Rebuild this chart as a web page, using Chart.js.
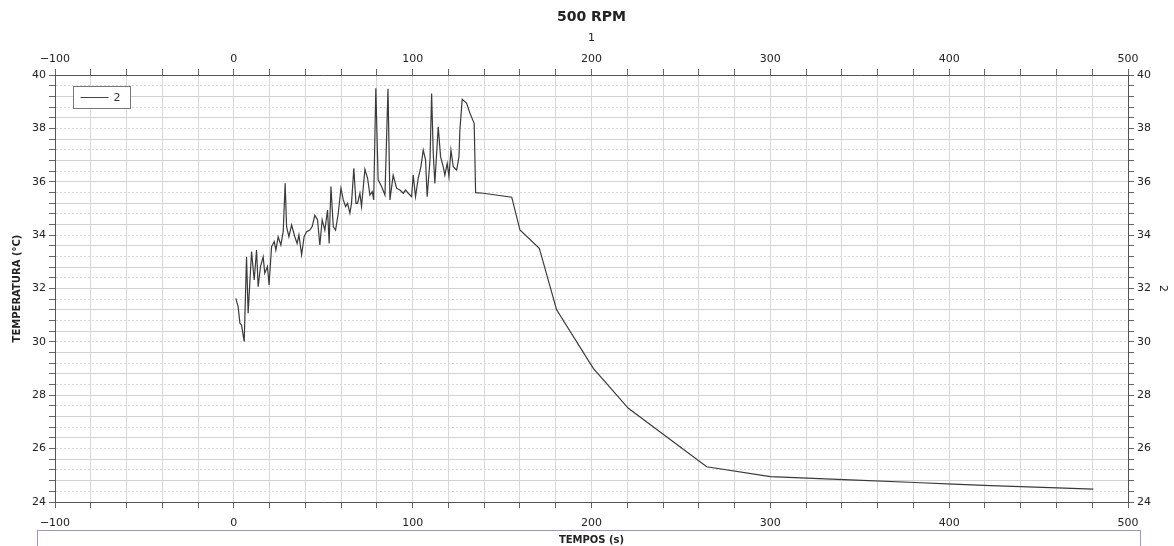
<!DOCTYPE html>
<html><head><meta charset="utf-8">
<script src="https://cdn.jsdelivr.net/npm/chart.js@4.4.0/dist/chart.umd.min.js"></script>
<style>html,body{margin:0;padding:0;background:#fff;}#wrap{width:1174px;height:546px;position:relative;}</style>
</head><body><div id="wrap"><canvas id="c" width="1174" height="546"></canvas></div>
<script>
const chartTitle = '500 RPM';
const seriesName = '2';
const timeValues = [1.1,2.4,3.4,4.3,5.8,7.1,8.0,9.9,11.4,12.7,13.6,14.9,16.4,17.3,18.8,19.7,21.1,22.6,23.5,24.8,26.3,27.6,28.7,29.5,30.8,32.3,34.1,35.4,36.4,37.9,39.3,40.7,42.5,43.8,45.3,46.8,48.1,49.4,50.9,52.4,53.3,54.3,55.6,56.9,58.4,59.9,61.2,62.5,63.6,64.9,65.8,67.1,68.3,69.2,70.5,71.4,73.3,74.8,76.1,77.4,78.2,79.4,80.7,82.6,84.5,86.2,87.3,89.1,91.0,92.9,94.7,96.0,97.5,99.4,100.3,101.6,103.1,104.6,105.9,107.2,108.1,109.7,110.6,111.5,112.4,114.3,115.6,117.1,118.0,119.3,120.3,121.4,122.7,124.6,125.9,126.4,127.7,130.2,132.0,134.4,135.2,139.5,155.4,160.0,170.8,180.5,201.0,220.6,264.4,300.0,344.6,381.0,402.2,423.0,456.5,480.6];
const tempValues = [31.63,31.32,30.7,30.63,30.01,33.19,31.07,33.38,32.32,33.44,32.07,32.82,33.19,32.57,32.82,32.13,33.57,33.76,33.44,33.94,33.63,34.13,35.94,34.32,33.94,34.38,33.94,33.69,34.01,33.26,33.94,34.13,34.19,34.32,34.75,34.57,33.63,34.57,34.19,34.94,33.69,35.82,34.32,34.19,34.82,35.76,35.32,35.07,35.19,34.82,35.19,36.5,35.19,35.19,35.57,35.07,36.47,36.13,35.5,35.63,35.32,39.5,36.07,35.82,35.5,39.48,35.32,36.25,35.76,35.69,35.57,35.69,35.57,35.44,36.25,35.44,36.13,36.56,37.19,36.82,35.44,36.82,39.31,37.07,35.94,38.06,36.94,36.56,36.25,36.69,36.19,37.19,36.56,36.44,36.94,37.94,39.09,38.94,38.57,38.19,35.59,35.57,35.42,34.19,33.51,31.2,29.01,27.51,25.32,24.95,24.83,24.73,24.67,24.61,24.54,24.48];
const xTickLabels = [-100,0,100,200,300,400,500];
const yTickLabels = [24,26,28,30,32,34,36,38,40];

const FONT = 'DejaVu Sans';
const near = (v, arr) => arr.some(a => Math.abs(a - v) < 1e-6);
const fmtX = v => { const r = Math.round(v); return r < 0 ? '\u2212' + Math.abs(r) : String(r); };
const xTickCb = v => near(v, xTickLabels) ? fmtX(v) : '';
const yTickCb = v => near(v, yTickLabels) ? String(Math.round(v)) : '';
const tickFont = {family: FONT, size: 11};
const gridV = {color: '#d8d8d8', tickLength: 6, tickColor: '#666'};
const gridH = {color: ctx => (ctx.index % 2 ? '#dadada' : '#d2d2d2'), tickLength: 6, tickColor: '#666'};

const legendBox = {
  id: 'legendBox',
  afterDraw(chart) {
    const c = chart.ctx, a = chart.chartArea;
    const x = a.left + 18.5, y = a.top + 11.5, w = 57, h = 22;
    c.save();
    c.fillStyle = '#fff'; c.fillRect(x, y, w, h);
    c.strokeStyle = '#777'; c.lineWidth = 1; c.strokeRect(x, y, w, h);
    c.strokeStyle = '#444'; c.beginPath(); c.moveTo(x + 7, y + 11); c.lineTo(x + 35, y + 11); c.stroke();
    c.fillStyle = '#333'; c.font = '11px "' + FONT + '"'; c.textBaseline = 'middle';
    c.fillText(chart.data.datasets[0].label, x + 40, y + 11.5);
    c.strokeStyle = '#9b93e0'; c.lineWidth = 1;
    c.strokeRect(37.5, 530.5, 1103, 40);
    c.restore();
  }
};

new Chart(document.getElementById('c'), {
  type: 'line',
  data: {datasets: [{
    label: seriesName,
    data: timeValues.map((t, i) => ({x: t, y: tempValues[i]})),
    borderColor: '#3a3a3a', borderWidth: 1.2, pointRadius: 0, tension: 0, fill: false,
    xAxisID: 'x', yAxisID: 'y'
  }]},
  options: {
    responsive: false, animation: false,
    layout: {padding: 0},
    plugins: {
      legend: {display: false},
      tooltip: {enabled: false},
      title: {display: true, text: chartTitle, fullSize: false, color: '#222',
        font: {family: FONT, size: 14, weight: 'bold'}, padding: {top: 9, bottom: 3}}
    },
    scales: {
      x: {type: 'linear', position: 'bottom', min: -100, max: 500,
        ticks: {stepSize: 20, autoSkip: false, maxRotation: 0, callback: xTickCb, font: tickFont, color: '#222', padding: 9},
        grid: gridV, border: {color: '#555'},
        title: {display: true, text: 'TEMPOS (s)', color: '#222', font: {family: FONT, size: 10, weight: 'bold'}, padding: 0},
        afterFit: s => { s.height = 44; }},
      x2: {type: 'linear', position: 'top', min: -100, max: 500,
        ticks: {stepSize: 20, autoSkip: false, maxRotation: 0, callback: xTickCb, font: tickFont, color: '#222', padding: 3},
        grid: {drawOnChartArea: false, tickLength: 6, tickColor: '#666'}, border: {color: '#555'},
        title: {display: true, text: '1', color: '#222', font: {family: FONT, size: 11}, padding: {top: 3, bottom: 0}},
        afterFit: s => { s.height = 46.2; }},
      y: {type: 'linear', position: 'left', min: 24, max: 40,
        ticks: {stepSize: 0.4, autoSkip: false, callback: yTickCb, font: tickFont, color: '#222', padding: 3},
        grid: gridH, border: {color: '#555', dash: ctx => (ctx.tick && ctx.index % 2 ? [2, 2] : [])},
        title: {display: true, text: 'TEMPERATURA (°C)', color: '#222', font: {family: FONT, size: 10, weight: 'bold'}, padding: {top: 11, bottom: 0}},
        afterFit: s => { s.width = 55; }},
      y2: {type: 'linear', position: 'right', min: 24, max: 40,
        ticks: {stepSize: 0.4, autoSkip: false, callback: yTickCb, font: tickFont, color: '#222', padding: 3},
        grid: {drawOnChartArea: false, tickLength: 6, tickColor: '#666'}, border: {color: '#555'},
        title: {display: true, text: '2', color: '#222', font: {family: FONT, size: 11}, padding: {top: 5, bottom: 0}},
        afterFit: s => { s.width = 46; }}
    }
  },
  plugins: [legendBox]
});
</script></body></html>
